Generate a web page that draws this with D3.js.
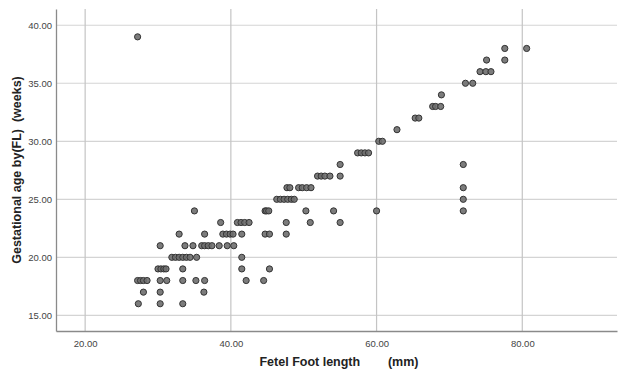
<!DOCTYPE html>
<html>
<head>
<meta charset="utf-8">
<script src="https://cdn.jsdelivr.net/npm/d3@7"></script>
<style>
  body { margin: 0; background: #fff; }
  text { font-family: "Liberation Sans", Arial, sans-serif; }
</style>
</head>
<body>
<script>
// gestational age rows (weeks) and the foot lengths (mm) found on each row
const weeks = [16, 17, 18, 19, 20, 21, 22, 23, 24, 25, 26, 27, 28, 29, 30, 31, 32, 33, 34, 35, 36, 37, 38, 39];
const footLengths = [
  [27.3, 30.3, 33.4],
  [28.0, 30.3, 36.3],
  [27.2, 27.6, 28.0, 28.5, 30.3, 31.2, 33.4, 35.2, 36.4, 42.1, 44.5],
  [30.0, 30.4, 30.8, 31.1, 33.4, 41.5, 45.3],
  [31.9, 32.4, 32.9, 33.4, 33.9, 34.4, 35.3, 41.5],
  [30.3, 33.7, 34.8, 36.0, 36.4, 36.9, 37.4, 38.4, 39.5, 40.4],
  [32.9, 36.4, 38.9, 39.4, 39.9, 40.3, 41.5, 44.7, 45.3, 47.6],
  [38.6, 40.9, 41.4, 41.9, 42.5, 47.6, 50.9, 55.0],
  [35.0, 44.7, 44.9, 45.2, 50.3, 54.1, 60.0, 71.9],
  [46.3, 46.8, 47.3, 47.8, 48.3, 48.7, 71.9],
  [47.7, 48.1, 49.3, 49.8, 50.4, 51.0, 71.9],
  [51.9, 52.4, 52.9, 53.6, 55.0],
  [55.0, 71.9],
  [57.4, 57.9, 58.4, 58.9],
  [60.3, 60.8],
  [62.8],
  [65.3, 65.8],
  [67.7, 68.1, 68.8],
  [68.9],
  [72.2, 73.2],
  [74.2, 75.0, 75.7],
  [75.1, 77.6],
  [77.6, 80.6],
  [27.2]
];
const xTicks = [20, 40, 60, 80];
const yTicks = [15, 20, 25, 30, 35, 40];

const points = [];
weeks.forEach((w, i) => footLengths[i].forEach(f => points.push({ x: f, y: w })));

const width = 618, height = 373;
const plot = { left: 56, right: 617, top: 9, bottom: 331 };

const svg = d3.select('body').append('svg')
  .attr('width', width)
  .attr('height', height);

const x = d3.scaleLinear().domain([16, 93]).range([plot.left, plot.right]);
const y = d3.scaleLinear().domain([13.65, 41.4]).range([plot.bottom, plot.top]);

// gridlines
svg.append('g').selectAll('line').data(yTicks).enter().append('line')
  .attr('x1', plot.left).attr('x2', plot.right)
  .attr('y1', d => y(d)).attr('y2', d => y(d))
  .attr('stroke', '#d4d4d4').attr('stroke-width', 1.2);
svg.append('g').selectAll('line').data(xTicks).enter().append('line')
  .attr('y1', plot.top).attr('y2', plot.bottom)
  .attr('x1', d => x(d)).attr('x2', d => x(d))
  .attr('stroke', '#c4c4c4').attr('stroke-width', 1.2);

// axes
const xAxis = svg.append('g')
  .attr('transform', `translate(0,${plot.bottom})`)
  .call(d3.axisBottom(x).tickValues(xTicks).tickSize(0).tickPadding(9).tickFormat(d3.format('.2f')));
const yAxis = svg.append('g')
  .attr('transform', `translate(${plot.left},0)`)
  .call(d3.axisLeft(y).tickValues(yTicks).tickSize(0).tickPadding(4).tickFormat(d3.format('.2f')));
[xAxis, yAxis].forEach(a => {
  a.select('.domain').attr('stroke', '#8a8a8a').attr('stroke-width', 1.3);
  a.selectAll('text').attr('fill', '#444').style('font-size', '9.5px')
    .style('font-family', '"Liberation Sans", Arial, sans-serif');
});

// points
svg.append('g').selectAll('circle').data(points).enter().append('circle')
  .attr('cx', d => x(d.x))
  .attr('cy', d => y(d.y))
  .attr('r', 3.1)
  .attr('fill', '#6e6e6e')
  .attr('fill-opacity', 0.9)
  .attr('stroke', '#333')
  .attr('stroke-width', 1);

// axis titles
svg.append('text')
  .attr('x', 339).attr('y', 366)
  .attr('text-anchor', 'middle')
  .attr('fill', '#222')
  .style('font-size', '12.5px').style('font-weight', 'bold')
  .style('white-space', 'pre')
  .text('Fetel Foot length        (mm)');

svg.append('text')
  .attr('transform', 'translate(21,170) rotate(-90)')
  .attr('text-anchor', 'middle')
  .attr('fill', '#222')
  .style('font-size', '12.5px').style('font-weight', 'bold')
  .style('white-space', 'pre')
  .text('Gestational age by(FL)  (weeks)');
</script>
</body>
</html>
